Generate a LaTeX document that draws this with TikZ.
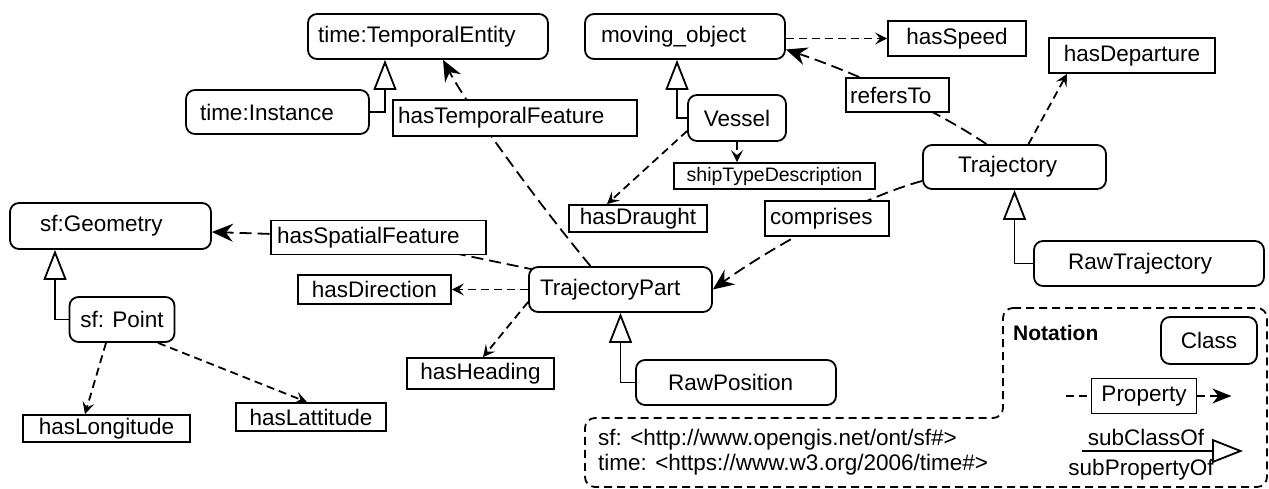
\documentclass[tikz,border=0pt]{standalone}
\usepackage{fontspec}
\setmainfont{Liberation Sans}
\usetikzlibrary{arrows.meta,calc}
\pgfdeclarelayer{bg}
\pgfsetlayers{bg,main}
\begin{document}
\begin{tikzpicture}[x=1pt,y=-1pt,
  every node/.style={font=\fontsize{22.5}{26}\selectfont, inner sep=0pt, text=black},
  cls/.style={draw, line width=1.8pt, rounded corners=9pt, fill=white, inner sep=0pt, align=center},
  prop/.style={draw, line width=1.8pt, fill=white, inner sep=0pt, align=center},
  inh/.style={line width=1.8pt, -{Triangle[open, length=30pt, width=23pt, line width=1.8pt]}},
  dprop/.style={line width=1.8pt, dash pattern=on 8pt off 5pt, -{Stealth[length=12pt,width=12pt,inset=5pt]}},
  oprop/.style={line width=1.8pt, dash pattern=on 12pt off 6pt, -{Stealth[length=21pt,width=18pt,inset=7pt]}},
  legline/.style={line width=1.8pt, dash pattern=on 8pt off 5pt},
]
\useasboundingbox (0,0) rectangle (1269,489);

% classes
\node[cls, minimum height=45pt, text width=220pt, inner xsep=10pt, align=left] (te) at (428,36.5) {time:TemporalEntity};
\node[cls, minimum height=44pt, text width=155pt, inner xsep=14pt, align=left] (ti) at (277.5,112) {time:Instance};
\node[cls, minimum height=45pt, text width=168pt, inner xsep=16pt, align=left] (mo) at (685,36.5) {moving\_object};
\node[cls, minimum height=46pt, minimum width=98pt] (vessel) at (737,118) {Vessel};
\node[cls, minimum height=44pt, text width=113pt, inner xsep=35pt, align=left] (traj) at (1014.5,167) {Trajectory};
\node[cls, minimum height=45pt, text width=162pt, inner xsep=34pt, align=left] (rawtraj) at (1149,263.5) {RawTrajectory};
\node[cls, minimum height=45pt, text width=161pt, inner xsep=11pt, align=left] (tp) at (620.5,289.5) {TrajectoryPart};
\node[cls, minimum height=45pt, text width=136pt, inner xsep=32pt, align=left] (rawpos) at (736,382.5) {RawPosition};
\node[cls, minimum height=46pt, text width=141pt, inner xsep=30pt, align=left] (geom) at (110.5,226) {sf:Geometry};
\node[cls, minimum height=45pt, minimum width=105pt] (point) at (122,319.5) {sf: Point};

% properties
\node[prop, minimum height=36pt, text width=234pt, inner xsep=5pt, align=left] (hts) at (515,118) {hasTemporalFeature};
\node[prop, minimum height=35pt, minimum width=138pt] (speed) at (957,38.5) {hasSpeed};
\node[prop, minimum height=35pt, minimum width=166pt] (dep) at (1132,55.5) {hasDeparture};
\node[prop, minimum height=34pt, text width=95pt, inner xsep=4pt, align=left] (refers) at (897.5,95) {refersTo};
\node[prop, minimum height=26pt, minimum width=201pt, font=\fontsize{19.5}{23}\selectfont] (std) at (774.5,176) {shipTypeDescription};
\node[prop, minimum height=27pt, minimum width=138pt] (draught) at (638,218.5) {hasDraught};
\node[prop, minimum height=35pt, text width=114pt, inner xsep=5pt, align=left] (comp) at (827,218.5) {comprises};
\node[prop, minimum height=34pt, text width=203pt, inner xsep=6pt, align=left] (hsf) at (378.5,237.5) {hasSpatialFeature};
\node[prop, minimum height=29pt, minimum width=153pt] (dir) at (374.5,289.5) {hasDirection};
\node[prop, minimum height=31pt, minimum width=147pt] (heading) at (480.5,373.5) {hasHeading};
\node[prop, minimum height=27pt, minimum width=167pt] (long) at (106.5,428.5) {hasLongitude};
\node[prop, minimum height=28pt, minimum width=150pt] (lat) at (311,417) {hasLattitude};

\begin{pgfonlayer}{bg}
% subclass
\draw[inh] (ti.east) -| ($(te.south)+(-43,0)$);
\draw[inh] (vessel.west) -| ($(mo.south)+(-8,0)$);
\draw[inh] (rawtraj.west) -| (traj.south);
\draw[inh] (rawpos.west) -| (tp.south);
\draw[inh] (point.west) -| ($(geom.south)+(-55.5,0)$);
% data properties
\draw[dprop] (mo.east |- speed.west) -- (speed.west);
\draw[dprop] (vessel.south) -- (vessel.south |- std.north);
\draw[dprop] ($(vessel.west)+(0,13)$) -- ($(draught.north)+(-31,0)$);
\draw[dprop] ($(traj.north)+(14,0)$) -- ($(dep.south)+(-65,0)$);
\draw[dprop] (tp.west) -- (dir.east);
\draw[dprop] ($(tp.west)+(0,12.5)$) -- ($(heading.north)+(2.5,0)$);
\draw[dprop] ($(point.south)+(-16,0)$) -- ($(long.north)+(-21.5,0)$);
\draw[dprop] ($(point.south)+(36,0)$) -- ($(lat.north)+(-4,0)$);
% object properties
\draw[oprop] ($(tp.north)+(-30,0)$) .. controls +(-50,-60) and +(27,50) .. ($(te.south)+(15,0)$);
\draw[oprop] ($(traj.north)+(-28,0)$) .. controls +(-60,-40) and +(60,20) .. ($(mo.east)+(0,13)$);
\draw[oprop] ($(traj.west)+(0,14)$) .. controls +(-70,19) and +(45,-33) .. (tp.east);
\draw[oprop] ($(tp.north west)+(8,4)$) -- (hsf.center) -- ($(geom.east)+(0,6)$);
\end{pgfonlayer}

% legend
\draw[legline, rounded corners=10pt] (1003,308) -- (1267,308) -- (1267,487) -- (585,487) -- (585,418) -- (1003,418) -- cycle;
\node[anchor=west, font=\fontsize{21}{25}\selectfont\bfseries] (notation) at (1013,333) {Notation};
\node[cls, minimum width=96pt, minimum height=47pt] (lcls) at (1209,340.5) {Class};
\node[prop, minimum width=105pt, minimum height=35pt] (lprop) at (1144,396) {Property};
\coordinate (lpa) at ($(lprop.west)+(-25,0)$);
\coordinate (lpb) at ($(lprop.east)+(34,0)$);
\draw[legline] (lpa) -- (lprop.west);
\draw[legline, -{Stealth[length=19pt,width=15pt,inset=6pt]}] (lprop.east) -- (lpb);
\coordinate (sca) at (1082,451);
\coordinate (scb) at (1243,451);
\draw[line width=1.8pt, -{Triangle[open, length=31pt, width=24pt, line width=1.8pt]}] (sca) -- (scb);
\node (subc) at (1146,437) {subClassOf};
\node (subp) at (1141,470) {subPropertyOf};
\node[anchor=west] (nsf) at (598,440) {sf: <http://www.opengis.net/ont/sf\#>};
\node[anchor=west] (ntime) at (598,465) {time: <https://www.w3.org/2006/time\#>};
\end{tikzpicture}
\end{document}
